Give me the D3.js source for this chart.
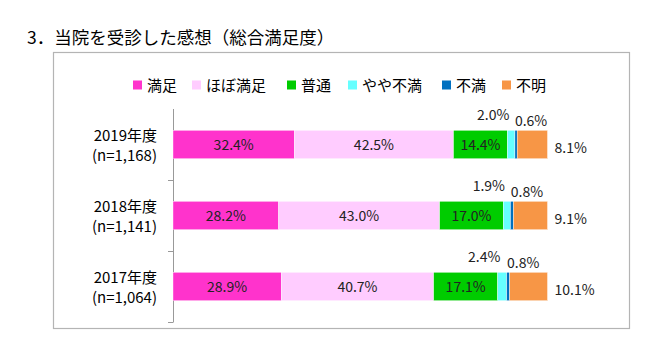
<!DOCTYPE html>
<html><head><meta charset="utf-8">
<script src="https://cdn.jsdelivr.net/npm/d3@7"></script>
<style>
body{margin:0;background:#fff;}
text{font-family:"Noto Sans CJK JP","Noto Sans",sans-serif;}
</style></head>
<body><svg id="c" width="660" height="356"></svg>
<script>
const years = ["2019年度","2018年度","2017年度"];
const counts = ["(n=1,168)","(n=1,141)","(n=1,064)"];
const categories = ["満足","ほぼ満足","普通","やや不満","不満","不明"];
const colors = ["#FF33CC","#FFCCFF","#00CC00","#66FFFF","#0070C0","#F79646"];
const v2019 = [32.4,42.5,14.4,2.0,0.6,8.1];
const v2018 = [28.2,43.0,17.0,1.9,0.8,9.1];
const v2017 = [28.9,40.7,17.1,2.4,0.8,10.1];
const values = [v2019,v2018,v2017];

const svg = d3.select("#c");
svg.append("rect").attr("x",0).attr("y",0).attr("width",660).attr("height",356).attr("fill","#fff");

svg.append("text").attr("x",27).attr("y",44).attr("font-size",17.5).attr("fill","#000")
  .text("3．当院を受診した感想（総合満足度）");

svg.append("rect").attr("x",53.5).attr("y",52.5).attr("width",576).attr("height",276)
  .attr("fill","none").attr("stroke","#b4b4b4").attr("stroke-width",1.2);

const x = d3.scaleLinear().domain([0,100]).range([173,547.5]);
const y = d3.scaleBand().domain(years).range([109,322]).paddingInner(0.6).paddingOuter(0.3);
const yAxisScale = d3.scaleBand().domain(years).range([109,322]);

// axis
svg.append("line").attr("x1",173.5).attr("x2",173.5).attr("y1",109).attr("y2",322).attr("stroke","#999");
yAxisScale.domain().forEach((d,i)=>{
  const ty = Math.round(yAxisScale(d)+yAxisScale.bandwidth())+0.5;
  svg.append("line").attr("x1",168).attr("x2",173.5).attr("y1",ty).attr("y2",ty).attr("stroke","#999");
});

// legend
const legX = [133,192,287,348,442,502];
categories.forEach((c,i)=>{
  svg.append("rect").attr("x",legX[i]).attr("y",80.5).attr("width",9).attr("height",9).attr("fill",colors[i]);
  svg.append("text").attr("x",legX[i]+14).attr("y",90.5).attr("font-size",15).attr("fill","#000").text(c);
});

// bars
years.forEach((yr,i)=>{
  const vals = values[i];
  let cum = 0;
  const y0 = y(yr), bh = y.bandwidth(), cy = y0+bh/2;
  vals.forEach((v,j)=>{
    const x0 = x(cum), x1 = x(cum+v);
    svg.append("rect").attr("x",x0).attr("y",y0).attr("width",x1-x0).attr("height",bh)
      .attr("fill",colors[j]).attr("stroke","#fff").attr("stroke-width",0.4);
    const t = v.toFixed(1)+"%";
    if(j<3){
      svg.append("text").attr("x",(x0+x1)/2).attr("y",cy+5).attr("text-anchor","middle")
        .attr("font-size",14).attr("fill","#222").text(t);
    } else if(j===3){
      svg.append("text").attr("x",(x0+x1)/2-18).attr("y",y0-10).attr("text-anchor","middle")
        .attr("font-size",14).attr("fill","#222").text(t);
    } else if(j===4){
      svg.append("text").attr("x",(x0+x1)/2+15).attr("y",y0-4).attr("text-anchor","middle")
        .attr("font-size",14).attr("fill","#222").text(t);
    } else {
      svg.append("text").attr("x",x1+7).attr("y",cy+8).attr("text-anchor","start")
        .attr("font-size",14).attr("fill","#222").text(t);
    }
    cum += v;
  });
  svg.append("text").attr("x",157).attr("y",cy-4).attr("text-anchor","end").attr("font-size",15).attr("fill","#000").text(yr);
  svg.append("text").attr("x",157).attr("y",cy+16).attr("text-anchor","end").attr("font-size",15).attr("fill","#000").text(counts[i]);
});
</script></body></html>
